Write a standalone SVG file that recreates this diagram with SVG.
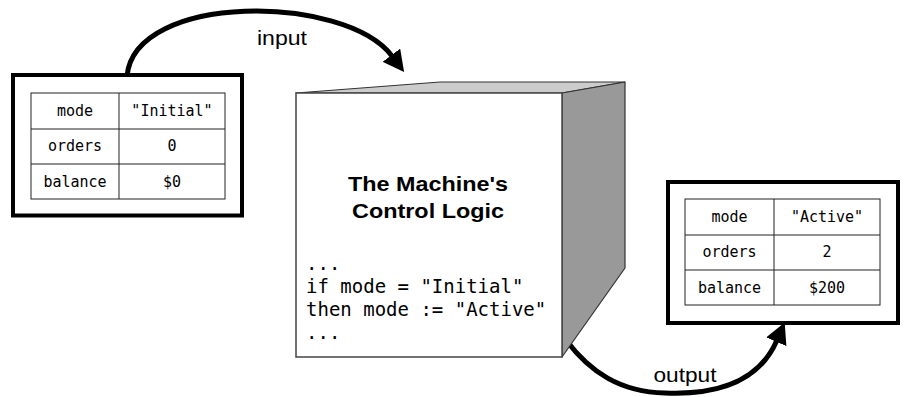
<svg xmlns="http://www.w3.org/2000/svg" width="904" height="397" viewBox="0 0 904 397">
  <style>
    .frame { fill: #ffffff; stroke: #000000; stroke-width: 4; }
    .grid { fill: #ffffff; stroke: #222222; stroke-width: 1; }
    .cell { font-family: "DejaVu Sans Mono", "Liberation Mono", monospace; font-size: 15px; fill: #000000; text-anchor: middle; }
    .code { font-family: "DejaVu Sans Mono", "Liberation Mono", monospace; font-size: 19px; fill: #000000; }
    .title { font-family: "Liberation Sans", Arial, sans-serif; font-size: 21px; font-weight: bold; fill: #000000; text-anchor: middle; }
    .label { font-family: "Liberation Sans", Arial, sans-serif; font-size: 20px; fill: #000000; text-anchor: middle; }
    .flow { fill: none; stroke: #000000; stroke-width: 5; marker-end: url(#head); }
    .edge { stroke: #333333; stroke-width: 1.2; stroke-linejoin: round; }
  </style>
  <defs>
    <marker id="head" markerUnits="userSpaceOnUse" viewBox="0 0 22 22" markerWidth="22" markerHeight="22" refX="1" refY="11" orient="auto">
      <path d="M0,0 L21,11 L0,22 z" fill="#000000"/>
    </marker>
  </defs>

  <!-- connectors -->
  <g id="connectors">
    <path id="input-arrow" class="flow" d="M127,76 C 135,-8 345,-6 392,56"/>
    <text class="label" x="282" y="45" textLength="50" lengthAdjust="spacingAndGlyphs">input</text>
    <path id="output-arrow" class="flow" d="M566,340 C 590,372 620,392 665,393 C 735,396 764,370 776.7,340.8"/>
    <text class="label" x="685" y="382" textLength="63" lengthAdjust="spacingAndGlyphs">output</text>
  </g>

  <!-- initial state record -->
  <g id="state-initial">
    <rect class="frame" x="13" y="75" width="229" height="140.5"/>
    <rect class="grid" x="31" y="93" width="194" height="106"/>
    <line class="grid" x1="119" y1="93" x2="119" y2="199"/>
    <line class="grid" x1="31" y1="129" x2="225" y2="129"/>
    <line class="grid" x1="31" y1="164" x2="225" y2="164"/>
    <text class="cell" x="75" y="116">mode</text>
    <text class="cell" x="172" y="116">"Initial"</text>
    <text class="cell" x="75" y="151">orders</text>
    <text class="cell" x="172" y="151">0</text>
    <text class="cell" x="75" y="187">balance</text>
    <text class="cell" x="172" y="187">$0</text>
  </g>

  <!-- control logic cube -->
  <g id="machine">
    <polygon class="edge" points="296,93 562,93 625,82 440,82" fill="#cccccc"/>
    <polygon class="edge" points="562,93 625,82 625,268 562,357" fill="#999999"/>
    <rect x="296" y="93" width="266" height="264" fill="#ffffff" stroke="#444444" stroke-width="1.5"/>
    <text class="title" x="428" y="191" textLength="160" lengthAdjust="spacingAndGlyphs">The Machine's</text>
    <text class="title" x="428" y="218" textLength="152" lengthAdjust="spacingAndGlyphs">Control Logic</text>
    <text class="code" x="306" y="270">...</text>
    <text class="code" x="306" y="293">if mode = "Initial"</text>
    <text class="code" x="306" y="316">then mode := "Active"</text>
    <text class="code" x="306" y="339">...</text>
  </g>

  <!-- resulting state record -->
  <g id="state-active">
    <rect class="frame" x="668" y="182" width="230" height="141"/>
    <rect class="grid" x="685" y="199" width="195" height="106"/>
    <line class="grid" x1="774" y1="199" x2="774" y2="305"/>
    <line class="grid" x1="685" y1="235" x2="880" y2="235"/>
    <line class="grid" x1="685" y1="270" x2="880" y2="270"/>
    <text class="cell" x="729.5" y="222">mode</text>
    <text class="cell" x="827" y="222">"Active"</text>
    <text class="cell" x="729.5" y="257">orders</text>
    <text class="cell" x="827" y="257">2</text>
    <text class="cell" x="729.5" y="293">balance</text>
    <text class="cell" x="827" y="293">$200</text>
  </g>
</svg>
